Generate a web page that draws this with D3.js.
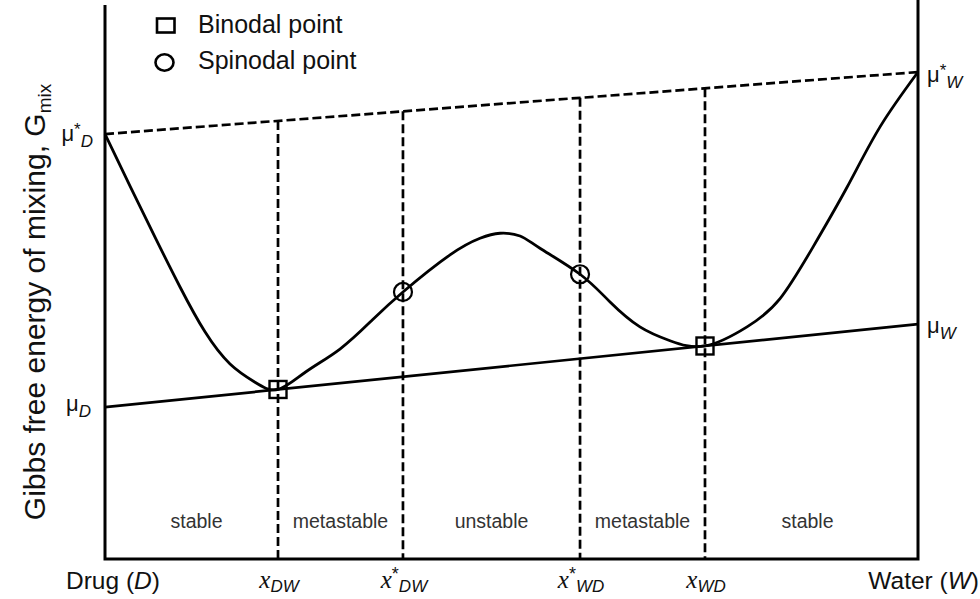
<!DOCTYPE html>
<html>
<head>
<meta charset="utf-8">
<script src="https://cdn.jsdelivr.net/npm/d3@7"></script>
<style>
  html, body { margin: 0; padding: 0; background: #fff; }
  svg { display: block; font-family: "Liberation Sans", Arial, Helvetica, sans-serif; }
</style>
</head>
<body>
<svg id="chart" width="980" height="599"></svg>
<script>
// Mole fraction of water (0 = pure drug, 1 = pure water) and free energy of mixing (arbitrary units)
const compositionX = [0, 0.0308, 0.0615, 0.0923, 0.123, 0.1538, 0.1845, 0.2128, 0.2472, 0.289, 0.3284, 0.3665, 0.4244, 0.4613, 0.4859, 0.5105, 0.535, 0.5843, 0.6212, 0.658, 0.695, 0.738, 0.7897, 0.8303, 0.8708, 0.9127, 0.9533, 1];
const gibbsG       = [7.67, 6.73, 5.81, 4.91, 4.10, 3.52, 3.19, 3.06, 3.38, 3.79, 4.31, 4.82, 5.49, 5.79, 5.88, 5.83, 5.61, 5.14, 4.64, 4.19, 3.94, 3.845, 4.19, 4.70, 5.63, 6.71, 7.80, 8.79];

// Chemical potentials at the pure-component edges
const pureChemPot  = [7.67, 8.79];   // μ*_D, μ*_W (dashed line)
const mixChemPot   = [2.74, 4.24];   // μ_D, μ_W (common tangent)

// Binodal and spinodal compositions and their free energies
const binodalX = [0.2128, 0.738];
const binodalG = [3.06, 3.845];
const spinodalX = [0.3665, 0.5843];
const spinodalG = [4.82, 5.14];

// Boundary labels (superscript, subscript) and region names
const boundaryX    = [0.2128, 0.3665, 0.5843, 0.738];
const boundarySup  = ["", "*", "*", ""];
const boundarySub  = ["DW", "DW", "WD", "WD"];
const regionNames  = ["stable", "metastable", "unstable", "metastable", "stable"];

const svg = d3.select("#chart");
const x = d3.scaleLinear().domain([0, 1]).range([105, 918]);
const y = d3.scaleLinear().domain([0, 10]).range([559, 5]);

const lineW = 2.7;
const dash = "9,4";
const ink = "#111";

const pureAt = d3.scaleLinear().domain([0, 1]).range(pureChemPot);

// Upper dashed line between pure chemical potentials
svg.append("line")
  .attr("x1", x(0)).attr("y1", y(pureChemPot[0]))
  .attr("x2", x(1)).attr("y2", y(pureChemPot[1]))
  .attr("stroke", "#000").attr("stroke-width", lineW).attr("stroke-dasharray", dash);

// Vertical dashed boundaries
svg.selectAll("line.boundary").data(boundaryX).join("line")
  .attr("class", "boundary")
  .attr("x1", d => x(d)).attr("x2", d => x(d))
  .attr("y1", d => y(pureAt(d))).attr("y2", y(0))
  .attr("stroke", "#000").attr("stroke-width", lineW).attr("stroke-dasharray", dash);

// Common tangent line
svg.append("line")
  .attr("x1", x(0)).attr("y1", y(mixChemPot[0]))
  .attr("x2", x(1)).attr("y2", y(mixChemPot[1]))
  .attr("stroke", "#000").attr("stroke-width", lineW);

// Free energy curve
const curvePts = compositionX.map((c, i) => [c, gibbsG[i]]);
svg.append("path")
  .datum(curvePts)
  .attr("fill", "none").attr("stroke", "#000").attr("stroke-width", 2.8)
  .attr("d", d3.line().x(d => x(d[0])).y(d => y(d[1])).curve(d3.curveNatural));

// Frame: left, right and bottom axes
svg.append("path")
  .attr("d", `M${x(0)},${y(10)} L${x(0)},${y(0)} L${x(1)},${y(0)} L${x(1)},0`)
  .attr("fill", "none").attr("stroke", "#000").attr("stroke-width", 3);

// Markers
svg.selectAll("rect.binodal").data(binodalX).join("rect")
  .attr("class", "binodal")
  .attr("x", d => x(d) - 8.5).attr("y", (d, i) => y(binodalG[i]) - 8.5)
  .attr("width", 17).attr("height", 17)
  .attr("fill", "none").attr("stroke", "#000").attr("stroke-width", 2.4);

svg.selectAll("circle.spinodal").data(spinodalX).join("circle")
  .attr("class", "spinodal")
  .attr("cx", d => x(d)).attr("cy", (d, i) => y(spinodalG[i]))
  .attr("r", 9)
  .attr("fill", "none").attr("stroke", "#000").attr("stroke-width", 2.2);

// Legend
svg.append("rect").attr("x", 157).attr("y", 18.5).attr("width", 17.5).attr("height", 14)
  .attr("fill", "none").attr("stroke", "#000").attr("stroke-width", 2.6);
svg.append("text").attr("x", 198).attr("y", 33).attr("font-size", 25).attr("fill", ink).text("Binodal point");
svg.append("ellipse").attr("cx", 164.5).attr("cy", 62.5).attr("rx", 9).attr("ry", 8.2)
  .attr("fill", "none").attr("stroke", "#000").attr("stroke-width", 2.6);
svg.append("text").attr("x", 198).attr("y", 69).attr("font-size", 25).attr("fill", ink).text("Spinodal point");

// Chemical potential labels
function muLabel(px, py, anchor, star, sub) {
  const t = svg.append("text").attr("x", px).attr("y", py).attr("font-size", 22)
    .attr("text-anchor", anchor).attr("fill", ink);
  t.append("tspan").text("μ");
  if (star) t.append("tspan").attr("dy", -6).attr("font-size", 17).text("*");
  t.append("tspan").attr("dy", star ? 12 : 6).attr("font-size", 17).attr("font-style", "italic").text(sub);
}
muLabel(93, 141, "end", true, "D");
muLabel(91, 411, "end", false, "D");
muLabel(927, 82, "start", true, "W");
muLabel(927, 333, "start", false, "W");

// Region names, centred in each composition band
const edges = [0, ...boundaryX, 1];
svg.selectAll("text.region").data(regionNames).join("text")
  .attr("class", "region")
  .attr("x", (d, i) => x((edges[i] + edges[i + 1]) / 2) + (i === 0 ? 5 : i === regionNames.length - 1 ? -4 : 0))
  .attr("y", 528).attr("text-anchor", "middle").attr("font-size", 19.5).attr("fill", "#333")
  .text(d => d);

// Bottom composition labels
svg.selectAll("text.boundaryLabel").data(boundaryX).join("text")
  .attr("class", "boundaryLabel")
  .attr("x", d => x(d) + 1).attr("y", 588).attr("text-anchor", "middle").attr("fill", ink)
  .each(function(d, i) {
    const t = d3.select(this);
    t.append("tspan").attr("font-family", "Liberation Serif, Times New Roman, serif")
      .attr("font-style", "italic").attr("font-size", 25).text("x");
    if (boundarySup[i]) t.append("tspan").attr("dy", -8).attr("font-size", 18).text(boundarySup[i]);
    t.append("tspan").attr("dy", boundarySup[i] ? 12 : 4).attr("font-size", 17)
      .attr("font-style", "italic").text(boundarySub[i]);
  });

const drug = svg.append("text").attr("x", 66).attr("y", 589).attr("font-size", 24.5).attr("fill", ink);
drug.append("tspan").text("Drug (");
drug.append("tspan").attr("font-style", "italic").text("D");
drug.append("tspan").text(")");

const water = svg.append("text").attr("x", 979).attr("y", 589).attr("font-size", 24.5)
  .attr("text-anchor", "end").attr("fill", ink);
water.append("tspan").text("Water (");
water.append("tspan").attr("font-style", "italic").text("W");
water.append("tspan").text(")");

// Y-axis title
const yt = svg.append("text")
  .attr("transform", "translate(45,302) rotate(-90)")
  .attr("text-anchor", "middle").attr("font-size", 30).attr("fill", ink);
yt.append("tspan").text("Gibbs free energy of mixing, G");
yt.append("tspan").attr("dy", 6).attr("font-size", 19).text("mix");
</script>
</body>
</html>
